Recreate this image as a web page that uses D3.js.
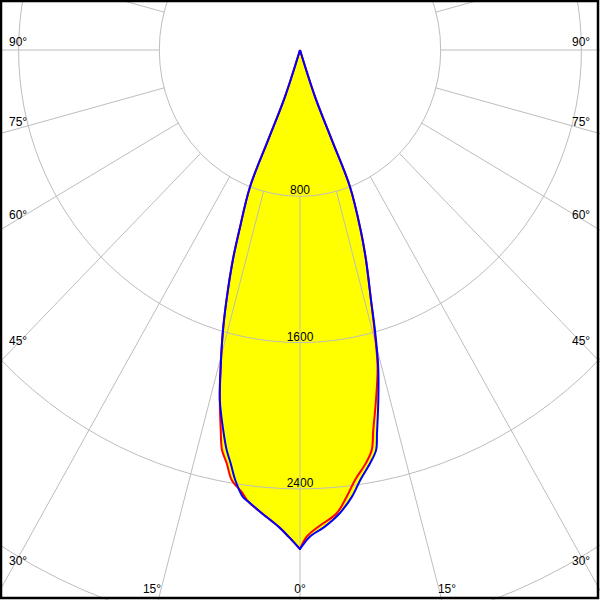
<!DOCTYPE html>
<html><head><meta charset="utf-8">
<script src="https://cdn.jsdelivr.net/npm/d3@7"></script>
<style>html,body{margin:0;padding:0;background:#fff;}svg{display:block;}</style>
</head><body>
<script>
// ---- data ----
const gridValues = [800, 1600, 2400, 3200];
const valueLabels = ["800", "1600", "2400"];
const angleLabelsSide = [90, 75, 60, 45, 30];
const angleLabelsBottom = [15, 0];
const spokeAngles = d3.range(0, 360, 15);

// blue curve (signed gamma, negative = left half), from top centre round to top centre
const blueAngles = [-18.5,-18.5,-20.2,-20.8,-19.3,-18.4,-17.0,-15.9,-14.6,-13.4,-11.7,-10.8,-9.9,-8.9,-7.6,-6.8,-4.9,-2.7,-1.4,0,1.2,3.1,5.1,6.9,8.3,10.0,11.2,11.8,13.1,14.4,15.5,16.45,18.1,19.3,20.8,20.2,18.5,18.5];
const blueValues = [0,270,524,800,1043,1210,1429,1601,1789,1967,2140,2226,2294,2380,2464,2487,2542,2609,2662,2729,2662,2610,2543,2460,2376,2295,2229,2141,1965,1788,1598,1425,1208,1043,800,524,270,0];
// red curve
const redAngles = [-18.5,-18.5,-20.2,-20.8,-19.3,-18.4,-17.0,-15.9,-14.6,-13.4,-12.24,-11.46,-10.45,-9.38,-7.8,-6.8,-4.9,-2.7,-1.4,0,0.82,2.29,4.71,6.2,7.58,9.39,10.56,11.34,12.72,14.3,15.4,16.45,18.1,19.3,20.8,20.2,18.5,18.5];
const redValues = [0,270,524,800,1043,1210,1429,1601,1789,1967,2126,2232,2298,2383,2440,2487,2542,2609,2662,2729,2661,2609,2542,2457,2372,2291,2225,2119,1962,1786,1598,1425,1208,1043,800,524,270,0];

// ---- drawing ----
const W = 600, H = 600, cx = 300, cy = 50;
const sx = d3.scaleLinear().domain([0, 800]).range([0, 140.7]);
const sy = d3.scaleLinear().domain([0, 800]).range([0, 146.3]);
const rad = a => a * Math.PI / 180;
const px = (a, I) => cx + sx(I) * Math.sin(rad(a));
const py = (a, I) => cy + sy(I) * Math.cos(rad(a));
const font = "Liberation Sans, Arial, sans-serif";

const svg = d3.select("body").append("svg").attr("width", W).attr("height", H);
svg.append("defs").append("clipPath").attr("id", "clip")
  .append("rect").attr("x", 0).attr("y", 0).attr("width", W).attr("height", H);
const g = svg.append("g").attr("clip-path", "url(#clip)");
g.append("rect").attr("width", W).attr("height", H).attr("fill", "#fff");

const smooth = d3.line().x(d => px(d[0], d[1])).y(d => py(d[0], d[1])).curve(d3.curveCatmullRom.alpha(0.5));
function curvePath(angles, values) {
  const pts = angles.map((a, i) => [a, values[i]]);
  const tip = angles.indexOf(0);
  const left = pts.slice(0, tip + 1), right = pts.slice(tip);
  return smooth(left) + smooth(right).replace(/^M/, "L");
}
const redPath = curvePath(redAngles, redValues);
const bluePath = curvePath(blueAngles, blueValues);

// fill (union of both)
[redPath, bluePath].forEach(p => g.append("path").attr("d", p + "Z").attr("fill", "#ffff00").attr("stroke", "none"));

// value labels
g.selectAll("text.val").data(valueLabels).join("text").attr("class", "val")
  .attr("x", cx).attr("y", (d, i) => cy + sy(gridValues[i]) - 2)
  .attr("text-anchor", "middle")
  .attr("font-family", font).attr("font-size", 12)
  .attr("fill", "#000").text(d => d);

// grid
const grid = g.append("g").attr("fill", "none").attr("stroke", "#bdbdbd").attr("stroke-width", 1);
grid.selectAll("ellipse").data(gridValues).join("ellipse")
  .attr("cx", cx).attr("cy", cy).attr("rx", d => sx(d)).attr("ry", d => sy(d));
grid.selectAll("line").data(spokeAngles).join("line")
  .attr("x1", d => px(d, 800)).attr("y1", d => py(d, 800))
  .attr("x2", d => px(d, 8000)).attr("y2", d => py(d, 8000));

// curves
g.append("path").attr("d", redPath).attr("fill", "none").attr("stroke", "#ff0000").attr("stroke-width", 2).attr("stroke-linejoin", "round");
g.append("path").attr("d", bluePath).attr("fill", "none").attr("stroke", "#0000ff").attr("stroke-width", 2).attr("stroke-linejoin", "round");

// angle labels
const ratio = sy(800) / sx(800);
const sideY = a => cy + 288 / Math.tan(rad(a)) * ratio - 4;
angleLabelsSide.forEach(a => {
  g.append("text").attr("x", 9).attr("y", sideY(a)).attr("font-family", font).attr("font-size", 12).attr("fill", "#000").text(a + "°");
  g.append("text").attr("x", 572).attr("y", sideY(a)).attr("font-family", font).attr("font-size", 12).attr("fill", "#000").text(a + "°");
});
angleLabelsBottom.forEach(a => {
  const lx = (593 - cy) / ratio * Math.tan(rad(a));
  if (a === 0) {
    g.append("text").attr("x", cx).attr("y", 593).attr("text-anchor", "middle").attr("font-family", font).attr("font-size", 12).attr("fill", "#000").text(a + "°");
  } else {
    g.append("text").attr("x", cx - lx + 1).attr("y", 593).attr("text-anchor", "end").attr("font-family", font).attr("font-size", 12).attr("fill", "#000").text(a + "°");
    g.append("text").attr("x", cx + lx - 2).attr("y", 593).attr("text-anchor", "start").attr("font-family", font).attr("font-size", 12).attr("fill", "#000").text(a + "°");
  }
});

// frame
svg.append("rect").attr("x", 1).attr("y", 1).attr("width", 597).attr("height", 597)
  .attr("fill", "none").attr("stroke", "#000").attr("stroke-width", 2.5);
</script>
</body></html>
